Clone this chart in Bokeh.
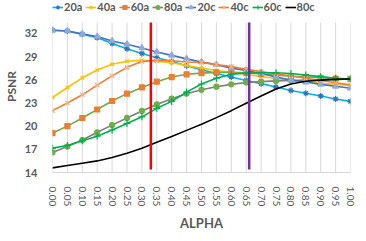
from bokeh.plotting import figure
from bokeh.models import Legend, LegendItem, FixedTicker, Range1d, NumeralTickFormatter
from bokeh.embed import file_html
from bokeh.resources import INLINE

alpha = [0.00, 0.05, 0.10, 0.15, 0.20, 0.25, 0.30, 0.35, 0.40, 0.45, 0.50,
         0.55, 0.60, 0.65, 0.70, 0.75, 0.80, 0.85, 0.90, 0.95, 1.00]

s20a = [32.4, 32.3, 31.9, 31.45, 30.7, 30.0, 29.4, 28.85, 28.35, 27.8, 27.3,
        26.8, 26.35, 25.9, 25.5, 25.05, 24.6, 24.25, 23.9, 23.5, 23.2]
s40a = [23.7, 25.0, 26.25, 27.25, 28.0, 28.4, 28.5, 28.4, 28.2, 27.85, 27.5,
        27.2, 26.95, 26.7, 26.4, 26.15, 25.95, 25.75, 25.55, 25.4, 25.25]
s60a = [19.1, 20.0, 21.05, 22.15, 23.25, 24.2, 25.0, 25.75, 26.35, 26.7, 26.85,
        26.95, 26.95, 26.9, 26.75, 26.6, 26.45, 26.35, 26.25, 26.15, 26.1]
s80a = [16.6, 17.35, 18.2, 19.2, 20.13, 21.06, 21.96, 22.8, 23.55, 24.2, 24.7,
        25.1, 25.4, 25.65, 25.75, 25.85, 25.9, 25.95, 26.0, 26.05, 26.1]
s20c = [32.4, 32.3, 31.9, 31.6, 31.0, 30.6, 30.1, 29.6, 29.15, 28.7, 28.3,
        27.95, 27.5, 27.2, 26.8, 26.35, 25.95, 25.7, 25.4, 25.15, 24.9]
s40c = [22.0, 23.0, 24.05, 25.3, 26.5, 27.6, 28.35, 28.5, 28.45, 28.3, 28.25,
        27.95, 27.7, 27.35, 27.05, 26.75, 26.5, 26.2, 25.9, 25.6, 25.35]
s60c = [17.15, 17.5, 18.1, 18.7, 19.5, 20.35, 21.2, 22.3, 23.2, 24.4, 25.45,
        26.2, 26.7, 26.85, 26.9, 26.9, 26.8, 26.6, 26.4, 26.2, 26.1]
s80c = [14.6, 14.9, 15.2, 15.5, 15.95, 16.5, 17.15, 17.9, 18.65, 19.45, 20.25,
        21.1, 22.0, 22.95, 23.9, 24.8, 25.45, 25.8, 25.95, 26.05, 26.1]

series_names = ["20a", "40a", "60a", "80a", "20c", "40c", "60c", "80c"]
series_vals = [s20a, s40a, s60a, s80a, s20c, s40c, s60c, s80c]
line_colors = ["#00B0F0", "#FFC000", "#70AD47", "#7F7F7F", "#4472C4", "#ED7D31", "#00B050", "#000000"]
marker_types = ["asterisk", "x", "square", "circle", "triangle", "x", "cross", None]
marker_colors = ["#2E75B6", "#FFC000", "#ED7D31", "#70AD47", "#8FAADC", "#F4B183", "#00B050", None]
marker_sizes = [6, 5, 5, 5, 6, 6, 7, 0]

y_ticks = [14, 17, 20, 23, 26, 29, 32]
y_min, y_max = 14, 33.4
thr_x = [0.33, 0.66]
thr_low = [14.4, 14.4]
thr_colors = ["#FF0000", "#7030A0"]

FONT = "Lato"
GREY = "#595959"

# extra headroom above y_max holds the legend (inside the frame)
p = figure(frame_width=298, frame_height=172, output_backend="svg", toolbar_location=None,
           x_range=Range1d(0, 1), y_range=Range1d(y_min, 36.25),
           min_border_left=0, min_border_right=9, min_border_top=0, min_border_bottom=0)
p.outline_line_color = None
p.background_fill_color = "white"
p.border_fill_color = "white"
p.xgrid.grid_line_color = None
p.ygrid.grid_line_color = None

# vertical category gridlines, limited to the plotting area
p.segment(x0=alpha, y0=[y_min] * len(alpha), x1=alpha, y1=[y_max] * len(alpha),
          line_color="#D9D9D9", line_width=1)

items = []
for name, vals, lc, mt, mc, ms in zip(series_names, series_vals, line_colors,
                                       marker_types, marker_colors, marker_sizes):
    rs = [p.line(alpha, vals, line_color=lc, line_width=1.6)]
    if mt is not None:
        rs.append(p.scatter(alpha, vals, marker=mt, size=ms, line_color=mc,
                            fill_color=mc, line_width=1.2))
    items.append(LegendItem(label=name, renderers=rs))

p.segment(x0=thr_x, y0=thr_low, x1=thr_x, y1=[y_max] * len(thr_x),
          line_color=thr_colors, line_width=2.5)

legend = Legend(items=items, orientation="horizontal", location="top_left",
                border_line_color=None, background_fill_alpha=0,
                label_text_font=FONT, label_text_font_style="bold",
                label_text_font_size="11px", label_text_color=GREY,
                glyph_width=11, glyph_height=10, label_standoff=1, spacing=3,
                label_width=18, padding=1, margin=0)
p.add_layout(legend)

p.xaxis.ticker = FixedTicker(ticks=alpha)
p.xaxis.formatter = NumeralTickFormatter(format="0.00")
p.xaxis.major_label_orientation = "vertical"
p.xaxis.major_label_text_font = FONT
p.xaxis.major_label_text_font_size = "10px"
p.xaxis.major_label_text_color = GREY
p.xaxis.major_label_standoff = 8
p.xaxis.axis_line_color = "#D9D9D9"
p.xaxis.major_tick_line_color = None
p.xaxis.minor_tick_line_color = None
p.xaxis.axis_label = "ALPHA"
p.xaxis.axis_label_text_font = FONT
p.xaxis.axis_label_text_font_style = "bold"
p.xaxis.axis_label_text_font_size = "13px"
p.xaxis.axis_label_text_color = GREY
p.xaxis.axis_label_standoff = 6

p.yaxis.ticker = FixedTicker(ticks=y_ticks)
p.yaxis.major_label_text_font = FONT
p.yaxis.major_label_text_font_style = "bold"
p.yaxis.major_label_text_font_size = "11px"
p.yaxis.major_label_text_color = GREY
p.yaxis.major_label_standoff = 9
p.yaxis.axis_line_color = None
p.yaxis.major_tick_line_color = None
p.yaxis.minor_tick_line_color = None
p.yaxis.axis_label = "PSNR"
p.yaxis.axis_label_text_font = FONT
p.yaxis.axis_label_text_font_style = "bold"
p.yaxis.axis_label_text_font_size = "12px"
p.yaxis.axis_label_text_color = GREY
p.yaxis.axis_label_standoff = 3

open("out.html", "w").write(file_html(p, INLINE))
